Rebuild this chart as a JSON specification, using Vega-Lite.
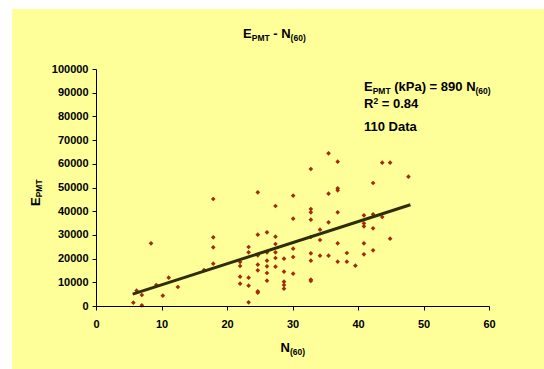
{
  "$schema": "https://vega.github.io/schema/vega-lite/v6.json",
  "width": 393,
  "height": 237,
  "autosize": "none",
  "padding": {"left": 96, "top": 69, "right": 55, "bottom": 63},
  "background": "white",
  "config": {
    "view": {"stroke": null},
    "font": "Liberation Sans",
    "axis": {
      "grid": false, "title": null,
      "domainColor": "black", "domainWidth": 1, "tickColor": "black", "tickSize": 4, "tickWidth": 1,
      "labelFont": "Liberation Sans", "labelFontWeight": "bold", "labelFontSize": 11, "labelColor": "black",
      "labelFlush": false, "labelOverlap": false
    },
    "text": {"font": "Liberation Sans", "fontWeight": "bold", "color": "black", "align": "left", "baseline": "alphabetic"}
  },
  "datasets": {
    "points": [
      {"N": 8.4, "E": 26450}, {"N": 6.2, "E": 6460}, {"N": 7.0, "E": 4640}, {"N": 5.7, "E": 1400},
      {"N": 7.0, "E": 300}, {"N": 9.2, "E": 8860}, {"N": 10.2, "E": 4350}, {"N": 11.1, "E": 11940},
      {"N": 12.5, "E": 8020}, {"N": 16.5, "E": 15190}, {"N": 17.9, "E": 45150}, {"N": 17.9, "E": 28990},
      {"N": 17.9, "E": 24770}, {"N": 17.9, "E": 17850}, {"N": 24.7, "E": 47970}, {"N": 27.4, "E": 42190},
      {"N": 24.7, "E": 30090}, {"N": 26.1, "E": 31100}, {"N": 27.4, "E": 29250}, {"N": 27.4, "E": 26160},
      {"N": 23.3, "E": 24890}, {"N": 23.3, "E": 22650}, {"N": 26.1, "E": 22650}, {"N": 27.4, "E": 22650},
      {"N": 24.7, "E": 21390}, {"N": 27.4, "E": 20250}, {"N": 28.7, "E": 19960}, {"N": 22.0, "E": 18560},
      {"N": 22.0, "E": 16880}, {"N": 26.1, "E": 19110}, {"N": 24.7, "E": 17430}, {"N": 26.1, "E": 16750},
      {"N": 27.4, "E": 16580}, {"N": 24.7, "E": 15060}, {"N": 26.1, "E": 13920}, {"N": 28.7, "E": 14470},
      {"N": 22.0, "E": 12360}, {"N": 23.3, "E": 11940}, {"N": 26.1, "E": 10680}, {"N": 22.0, "E": 9410},
      {"N": 23.3, "E": 8570}, {"N": 28.7, "E": 10250}, {"N": 28.7, "E": 8860}, {"N": 28.7, "E": 7300},
      {"N": 24.7, "E": 6200}, {"N": 24.7, "E": 5610}, {"N": 23.3, "E": 1560}, {"N": 42.3, "E": 51900},
      {"N": 36.9, "E": 49660}, {"N": 36.9, "E": 48820}, {"N": 30.1, "E": 46540}, {"N": 35.5, "E": 47380},
      {"N": 32.8, "E": 40930}, {"N": 32.8, "E": 39530}, {"N": 32.8, "E": 36410}, {"N": 30.1, "E": 36840},
      {"N": 36.9, "E": 39530}, {"N": 35.5, "E": 35300}, {"N": 40.9, "E": 38270}, {"N": 42.3, "E": 38690},
      {"N": 43.7, "E": 37550}, {"N": 40.9, "E": 34890}, {"N": 40.9, "E": 33630}, {"N": 42.3, "E": 32780},
      {"N": 34.2, "E": 32200}, {"N": 34.2, "E": 27850}, {"N": 32.8, "E": 29110}, {"N": 36.9, "E": 26460},
      {"N": 40.9, "E": 26460}, {"N": 30.1, "E": 24180}, {"N": 32.8, "E": 22220}, {"N": 38.3, "E": 22360},
      {"N": 40.9, "E": 21810}, {"N": 42.3, "E": 23500}, {"N": 30.1, "E": 20670}, {"N": 34.2, "E": 21240},
      {"N": 35.5, "E": 21240}, {"N": 32.8, "E": 19110}, {"N": 36.9, "E": 18700}, {"N": 38.3, "E": 18700},
      {"N": 39.6, "E": 17000}, {"N": 30.1, "E": 13630}, {"N": 32.8, "E": 11100}, {"N": 32.8, "E": 10550},
      {"N": 44.9, "E": 28400}, {"N": 35.5, "E": 64430}, {"N": 36.9, "E": 60890}, {"N": 32.8, "E": 57800},
      {"N": 43.7, "E": 60470}, {"N": 44.9, "E": 60470}, {"N": 47.7, "E": 54560}
    ],
    "fit": [{"N": 5.6, "E": 4984}, {"N": 48.0, "E": 42720}]
  },
  "layer": [
    {
      "data": {"values": [{}]},
      "mark": {"type": "rect", "fill": "#FFFF99"},
      "encoding": {
        "x": {
          "datum": -12.82, "type": "quantitative",
          "scale": {"domain": [0, 60], "nice": false, "zero": false},
          "axis": {"title": null, "zindex": 1, "tickCount": 20, "values": [0, 10, 20, 30, 40, 50, 60], "labelPadding": 8}
        },
        "x2": {"datum": 68.4},
        "y": {
          "datum": -26582, "type": "quantitative",
          "scale": {"domain": [0, 100000], "nice": false, "zero": false},
          "axis": {
            "title": null, "zindex": 1, "format": "d", "labelPadding": 4, "tickCount": 20, "labelOverlap": false,
            "values": [0, 10000, 20000, 30000, 40000, 50000, 60000, 70000, 80000, 90000, 100000]
          }
        },
        "y2": {"datum": 125316}
      }
    },
    {
      "data": {"name": "points"},
      "mark": {"type": "point", "shape": "diamond", "filled": true, "size": 22, "color": "#A02C0A", "opacity": 1},
      "encoding": {
        "x": {
          "field": "N", "type": "quantitative",
          "axis": {"title": null, "zindex": 1, "tickCount": 20, "values": [0, 10, 20, 30, 40, 50, 60], "labelPadding": 8}
        },
        "y": {
          "field": "E", "type": "quantitative",
          "axis": {
            "title": null, "zindex": 1, "format": "d", "labelPadding": 4, "tickCount": 20, "labelOverlap": false,
            "values": [0, 10000, 20000, 30000, 40000, 50000, 60000, 70000, 80000, 90000, 100000]
          }
        }
      }
    },
    {
      "data": {"name": "fit"},
      "mark": {"type": "line", "color": "#2E2E05", "strokeWidth": 3},
      "encoding": {
        "x": {"field": "N", "type": "quantitative"},
        "y": {"field": "E", "type": "quantitative"}
      }
    },
    {"data": {"values": [{}]}, "mark": {"type": "text", "text": "E", "fontSize": 13}, "encoding": {"x": {"datum": 40.916}, "y": {"datum": 90717}}},
    {"data": {"values": [{}]}, "mark": {"type": "text", "text": "PMT", "fontSize": 8.5}, "encoding": {"x": {"datum": 42.24}, "y": {"datum": 89451}}},
    {"data": {"values": [{}]}, "mark": {"type": "text", "text": "(kPa) = 890 N", "fontSize": 13}, "encoding": {"x": {"datum": 45.53}, "y": {"datum": 90717}}},
    {"data": {"values": [{}]}, "mark": {"type": "text", "text": "(60)", "fontSize": 8.5}, "encoding": {"x": {"datum": 57.94}, "y": {"datum": 89451}}},
    {"data": {"values": [{}]}, "mark": {"type": "text", "text": "R", "fontSize": 13}, "encoding": {"x": {"datum": 40.916}, "y": {"datum": 83544}}},
    {"data": {"values": [{}]}, "mark": {"type": "text", "text": "2", "fontSize": 8.5}, "encoding": {"x": {"datum": 42.35}, "y": {"datum": 85232}}},
    {"data": {"values": [{}]}, "mark": {"type": "text", "text": "= 0.84", "fontSize": 13}, "encoding": {"x": {"datum": 43.62}, "y": {"datum": 83544}}},
    {"data": {"values": [{}]}, "mark": {"type": "text", "text": "110 Data", "fontSize": 13}, "encoding": {"x": {"datum": 40.916}, "y": {"datum": 73966}}},
    {"data": {"values": [{}]}, "mark": {"type": "text", "text": "E", "fontSize": 13}, "encoding": {"x": {"datum": 22.45}, "y": {"datum": 113080}}},
    {"data": {"values": [{}]}, "mark": {"type": "text", "text": "PMT", "fontSize": 8.5}, "encoding": {"x": {"datum": 23.78}, "y": {"datum": 112025}}},
    {"data": {"values": [{}]}, "mark": {"type": "text", "text": "- N", "fontSize": 13}, "encoding": {"x": {"datum": 27.06}, "y": {"datum": 113080}}},
    {"data": {"values": [{}]}, "mark": {"type": "text", "text": "(60)", "fontSize": 8.5}, "encoding": {"x": {"datum": 29.71}, "y": {"datum": 112025}}},
    {"data": {"values": [{}]}, "mark": {"type": "text", "text": "N", "fontSize": 13}, "encoding": {"x": {"datum": 28.17}, "y": {"datum": -19409}}},
    {"data": {"values": [{}]}, "mark": {"type": "text", "text": "(60)", "fontSize": 8.5}, "encoding": {"x": {"datum": 29.60}, "y": {"datum": -20886}}},
    {"data": {"values": [{}]}, "mark": {"type": "text", "text": "E", "fontSize": 13, "angle": 270}, "encoding": {"x": {"datum": -8.55}, "y": {"datum": 42194}}},
    {"data": {"values": [{}]}, "mark": {"type": "text", "text": "PMT", "fontSize": 8.5, "angle": 270}, "encoding": {"x": {"datum": -8.17}, "y": {"datum": 45865}}}
  ]
}
